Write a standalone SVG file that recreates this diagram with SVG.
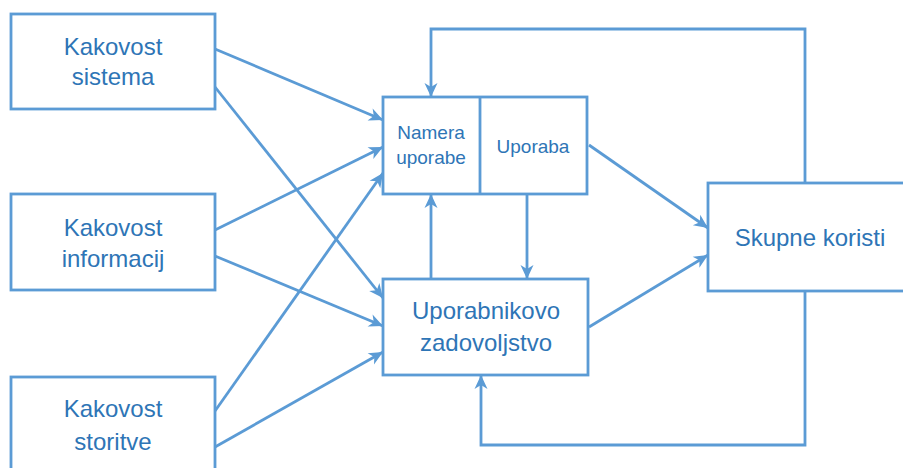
<svg xmlns="http://www.w3.org/2000/svg" width="903" height="468" viewBox="0 0 903 468">
<style>
.box{fill:#fff;stroke:#5B9BD5;stroke-width:2.8}
.ln{fill:none;stroke:#5B9BD5;stroke-width:2.8}
.t{font-family:"Liberation Sans",Arial,sans-serif;font-size:24px;fill:#2E75B6;text-anchor:middle}
.s{font-size:19px}
</style>
<defs>
<marker id="ah" markerUnits="userSpaceOnUse" markerWidth="16" markerHeight="16" viewBox="0 0 16 16" refX="15" refY="8" orient="auto">
<path d="M1,1.5 L15,8 L1,14.5 L5,8 Z" fill="#5B9BD5"/>
</marker>
</defs>
<rect width="903" height="468" fill="#fff"/>
<g id="connectors">
<line class="ln" x1="215" y1="49" x2="383" y2="120" marker-end="url(#ah)"/>
<line class="ln" x1="215" y1="87" x2="383" y2="298" marker-end="url(#ah)"/>
<line class="ln" x1="215" y1="230" x2="383" y2="147" marker-end="url(#ah)"/>
<line class="ln" x1="215" y1="256" x2="383" y2="326" marker-end="url(#ah)"/>
<line class="ln" x1="215" y1="411" x2="383" y2="173" marker-end="url(#ah)"/>
<line class="ln" x1="215" y1="447" x2="383" y2="352" marker-end="url(#ah)"/>
<line class="ln" x1="589" y1="145" x2="708" y2="228" marker-end="url(#ah)"/>
<line class="ln" x1="589" y1="327" x2="708" y2="255" marker-end="url(#ah)"/>
<line class="ln" x1="431" y1="279" x2="431" y2="194" marker-end="url(#ah)"/>
<line class="ln" x1="527" y1="194" x2="527" y2="279" marker-end="url(#ah)"/>
<polyline class="ln" points="805,183 805,29 431,29 431,97" marker-end="url(#ah)"/>
<polyline class="ln" points="805,291 805,445 481,445 481,375" marker-end="url(#ah)"/>
</g>
<g id="kakovost-sistema">
<rect class="box" x="11" y="14" width="204" height="95"/>
<text class="t" x="113" y="55">Kakovost</text>
<text class="t" x="113" y="85">sistema</text>
</g>
<g id="kakovost-informacij">
<rect class="box" x="11" y="194" width="204" height="96"/>
<text class="t" x="113" y="236">Kakovost</text>
<text class="t" x="113" y="267">informacij</text>
</g>
<g id="kakovost-storitve">
<rect class="box" x="11" y="377" width="204" height="100"/>
<text class="t" x="113" y="417">Kakovost</text>
<text class="t" x="113" y="450">storitve</text>
</g>
<g id="namera-uporaba">
<rect class="box" x="383" y="97" width="204" height="97"/>
<line class="ln" x1="480" y1="97" x2="480" y2="194"/>
<text class="t s" x="431" y="139">Namera</text>
<text class="t s" x="431" y="164">uporabe</text>
<text class="t s" x="533" y="153">Uporaba</text>
</g>
<g id="uporabnikovo-zadovoljstvo">
<rect class="box" x="383" y="279" width="205" height="96"/>
<text class="t" x="486" y="319">Uporabnikovo</text>
<text class="t" x="486" y="351">zadovoljstvo</text>
</g>
<g id="skupne-koristi">
<rect class="box" x="708" y="183" width="204" height="108"/>
<text class="t" x="810" y="246">Skupne koristi</text>
</g>
</svg>
